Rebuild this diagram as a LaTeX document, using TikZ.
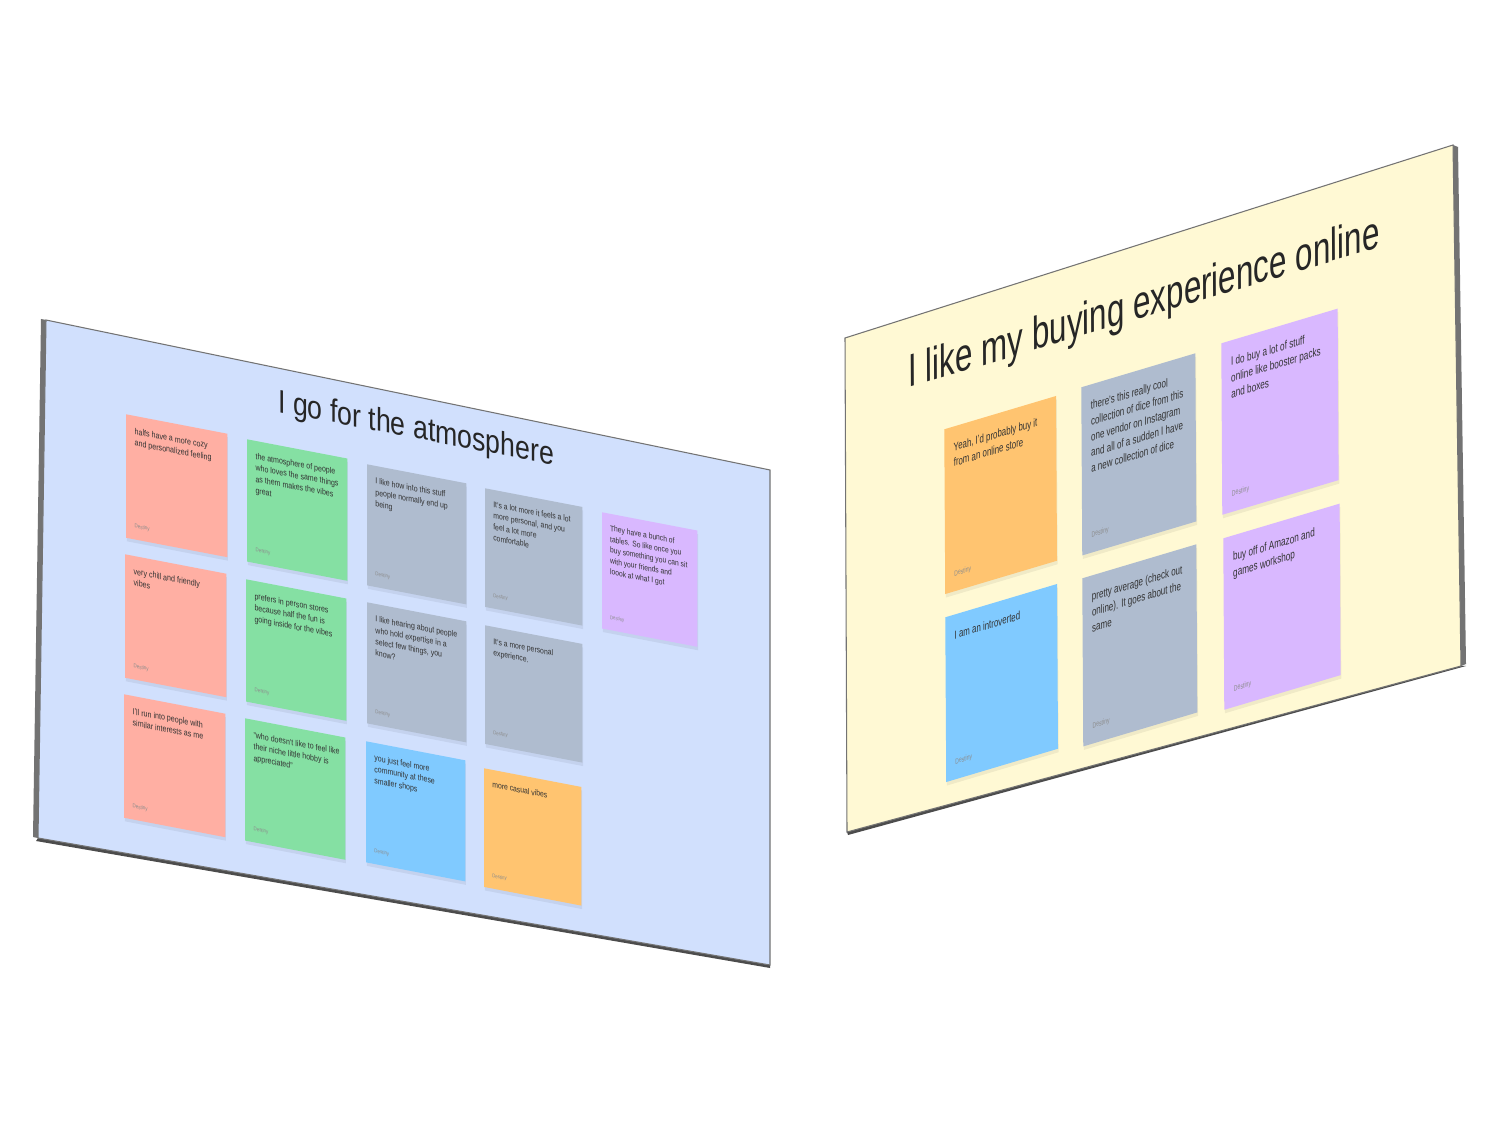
\documentclass[tikz,border=0pt]{standalone}
\usepackage{fontspec}
\setmainfont{Liberation Sans}
\usetikzlibrary{shadows}

\definecolor{leftboard}{RGB}{209,224,253}
\definecolor{rightboard}{RGB}{255,249,212}
\definecolor{salmon}{RGB}{255,175,163}
\definecolor{mint}{RGB}{133,224,163}
\definecolor{slate}{RGB}{175,188,207}
\definecolor{sky}{RGB}{128,202,255}
\definecolor{peach}{RGB}{255,196,112}
\definecolor{lilac}{RGB}{217,184,255}

\tikzset{
  note/.style={anchor=north west, inner sep=0.25cm, font=\fontsize{6}{8}\selectfont, text=black!80,
    drop shadow={shadow xshift=0.2pt, shadow yshift=-1pt, opacity=0.06, fill=black}},
  leftface/.style={cm={0.33,-0.0633,0,0.4033,(0,0)}},
  rightface/.style={cm={0.38,0.1133,-0.0033,0.56,(0,0)}},
  boardtitle/.style={anchor=base west, inner sep=0, font=\fontsize{23}{26}\selectfont, text=black!85},
}

\newcommand{\sticky}[1]{\begin{minipage}[t][2.5cm][t]{2.5cm}\begin{tabular}[t]{@{}l@{}}#1\end{tabular}\par\vfill{\fontsize{3.8}{4}\selectfont\color{black!45}Destiny}\end{minipage}}

\begin{document}
\begin{tikzpicture}[x=0.01cm, y=-0.01cm]
\useasboundingbox (0,0) rectangle (1500,1125);
\fill[white] (0,0) rectangle (1500,1125);

% left board
\fill[black!55] (41,319) -- (46,320) -- (38,838) -- (33,837) -- cycle;
\fill[black!70] (38,838) -- (770,965) -- (770,968) -- (36,841) -- cycle;
\filldraw[fill=leftboard, draw=black!55, line width=0.3pt] (46,320) -- (770,470) -- (770,965) -- (38,838) -- cycle;

\node[boardtitle, leftface] (ltitle) at (278,412) {I go for the atmosphere};

\node[note, leftface, fill=salmon, scale=1.02] (lnote1) at (126,414) {\sticky{halfs have a more cozy\\and personalized feeling}};
\node[note, leftface, fill=mint, scale=1.01] (lnote2) at (247,439) {\sticky{the atmosphere of people\\who loves the same things\\as them makes the vibes\\great}};
\node[note, leftface, fill=slate] (lnote3) at (367,464) {\sticky{I like how into this stuff\\people normally end up\\being}};
\node[note, leftface, fill=slate, scale=0.98] (lnote4) at (485,488) {\sticky{It's a lot more it feels a lot\\more personal, and you\\feel a lot more\\comfortable}};
\node[note, leftface, fill=lilac, scale=0.96] (lnote5) at (602,512) {\sticky{They have a bunch of\\tables. So like once you\\buy something you can sit\\with your friends and\\loook at what I got}};

\node[note, leftface, fill=salmon, scale=1.02] (lnote6) at (125,554) {\sticky{very chill and friendly\\vibes}};
\node[note, leftface, fill=mint, scale=1.01] (lnote7) at (246,579) {\sticky{prefers in person stores\\because half the fun is\\going inside for the vibes}};
\node[note, leftface, fill=slate] (lnote8) at (367,602) {\sticky{I like hearing about people\\who hold expertise in a\\select few things, you\\know?}};
\node[note, leftface, fill=slate, scale=0.98] (lnote9) at (485,625) {\sticky{It's a more personal\\experience.}};

\node[note, leftface, fill=salmon, scale=1.02] (lnote10) at (124,694) {\sticky{I'll run into people with\\similar interests as me}};
\node[note, leftface, fill=mint, scale=1.01] (lnote11) at (245,718) {\sticky{"who doesn't like to feel like\\their niche little hobby is\\appreciated"}};
\node[note, leftface, fill=sky] (lnote12) at (366,741) {\sticky{you just feel more\\community at these\\smaller shops}};
\node[note, leftface, fill=peach, scale=0.98] (lnote13) at (484,768) {\sticky{more casual vibes}};

% right board
\fill[black!55] (1453,145) -- (1458,147) -- (1466,664) -- (1461,666) -- cycle;
\fill[black!70] (847,832) -- (1461,666) -- (1466,666) -- (848,835) -- cycle;
\filldraw[fill=rightboard, draw=black!55, line width=0.3pt] (845,338) -- (1453,145) -- (1461,666) -- (847,832) -- cycle;

\node[boardtitle, rightface, font=\fontsize{23.5}{27}\selectfont] (rtitle) at (908,388) {I like my buying experience online};

\node[note, rightface, fill=peach, scale=0.98] (rnote1) at (944,429) {\sticky{Yeah, I'd probably buy it\\from an online store}};
\node[note, rightface, fill=slate] (rnote2) at (1081,387) {\sticky{there's this really cool\\collection of dice from this\\one vendor on Instagram\\and all of a sudden I have\\a new collection of dice}};
\node[note, rightface, fill=lilac, scale=1.02] (rnote3) at (1221,343) {\sticky{I do buy a lot of stuff\\online like booster packs\\and boxes}};

\node[note, rightface, fill=sky, scale=0.98] (rnote4) at (945,617) {\sticky{I am an introverted}};
\node[note, rightface, fill=slate] (rnote5) at (1082,578) {\sticky{pretty average (check out\\online). It goes about the\\same}};
\node[note, rightface, fill=lilac, scale=1.02] (rnote6) at (1223,538) {\sticky{buy off of Amazon and\\games workshop}};
\end{tikzpicture}
\end{document}
